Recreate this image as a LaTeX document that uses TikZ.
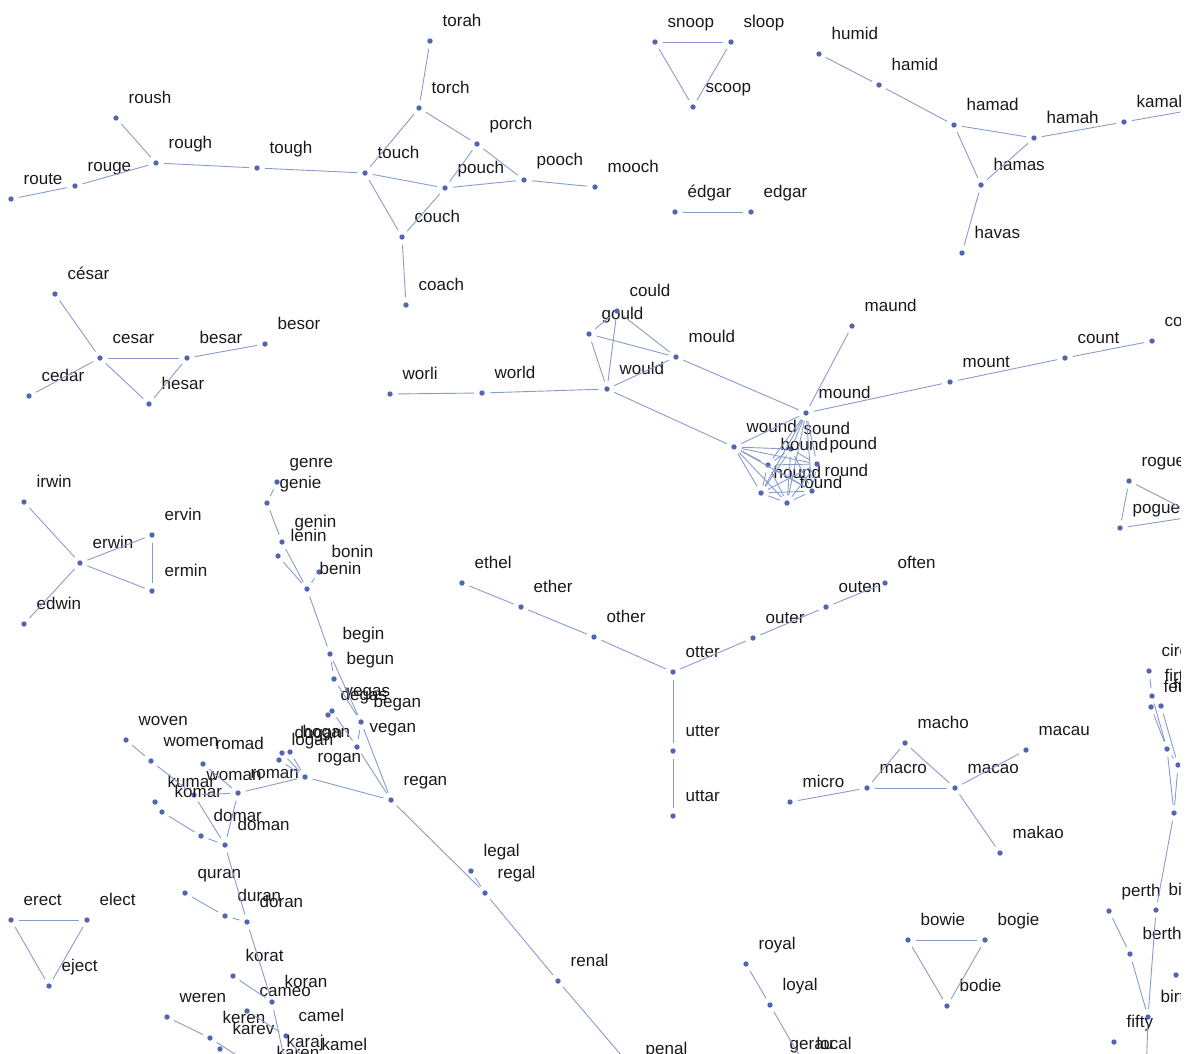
\documentclass[tikz,border=0pt]{standalone}
\usepackage{fontspec}
\setmainfont{Liberation Sans}
\definecolor{vcol}{RGB}{82,102,176}
\definecolor{ecol}{RGB}{135,155,205}
\tikzset{
 vdot/.style={circle, fill=vcol, inner sep=0pt, minimum size=5.4pt},
 vlbl/.style={anchor=base west, inner sep=0pt, font=\fontsize{17}{20}\selectfont, text=black!90},
 lnk/.style={draw=ecol, line width=0.9pt, shorten <=5pt, shorten >=5pt},
}
\newcommand\V[4]{\node[vdot] (#1) at (#2,#3) {}; \node[vlbl] (#1-l) at (#2+12.5,#3-14.7) {#4};}
\newcommand\U[3]{\node[vdot] (#1) at (#2,#3) {};}
\begin{document}
\begin{tikzpicture}[x=1pt,y=-1pt]
\useasboundingbox (0,0) rectangle (1191,1053);
\clip (0,0) rectangle (1180,1053);
% top left
\V{route}{11}{199}{route}
\V{rouge}{75}{186}{rouge}
\V{roush}{116}{118}{roush}
\V{rough}{156}{163}{rough}
\V{tough}{257}{168}{tough}
\V{touch}{365}{173}{touch}
\V{torch}{419}{108}{torch}
\V{torah}{430}{41}{torah}
\V{porch}{477}{144}{porch}
\V{pouch}{445}{188}{pouch}
\V{pooch}{524}{180}{pooch}
\V{mooch}{595}{187}{mooch}
\V{couch}{402}{237}{couch}
\V{coach}{406}{305}{coach}
\V{snoop}{655}{42}{snoop}
\V{sloop}{731}{42}{sloop}
\V{scoop}{693}{107}{scoop}
\V{edgarA}{675}{212}{édgar}
\V{edgar}{751}{212}{edgar}
\V{humid}{819}{54}{humid}
\V{hamid}{879}{85}{hamid}
\V{hamad}{954}{125}{hamad}
\V{hamah}{1034}{138}{hamah}
\V{kamah}{1124}{122}{kamah}
\coordinate (kamXX) at (1260,98);
\V{hamas}{981}{185}{hamas}
\V{havas}{962}{253}{havas}
\V{cesarA}{55}{294}{césar}
\V{cesar}{100}{358}{cesar}
\V{besar}{187}{358}{besar}
\V{besor}{265}{344}{besor}
\V{cedar}{29}{396}{cedar}
\V{hesar}{149}{404}{hesar}
\V{irwin}{24}{502}{irwin}
\V{erwin}{80}{563}{erwin}
\V{ervin}{152}{535}{ervin}
\V{ermin}{152}{591}{ermin}
\V{edwin}{24}{624}{edwin}
% ould / ound
\V{worli}{390}{394}{worli}
\V{world}{482}{393}{world}
\V{would}{607}{389}{would}
\V{gould}{589}{334}{gould}
\V{could}{617}{311}{could}
\V{mould}{676}{357}{mould}
\V{mound}{806}{413}{mound}
\V{maund}{852}{326}{maund}
\V{mount}{950}{382}{mount}
\V{count}{1065}{358}{count}
\V{court}{1152}{341}{court}
\V{wound}{734}{447}{wound}
\V{sound}{791}{449}{sound}
\V{bound}{768}{465}{bound}
\V{pound}{817}{464}{pound}
\V{hound}{761}{493}{hound}
\V{round}{812}{491}{round}
\V{found}{787}{503}{found}
% genre column
\V{genre}{277}{482}{genre}
\V{genie}{267}{503}{genie}
\V{genin}{282}{542}{genin}
\V{lenin}{278}{556}{lenin}
\V{bonin}{319}{572}{bonin}
\V{benin}{307}{589}{benin}
\V{begin}{330}{654}{begin}
\V{begun}{334}{679}{begun}
\V{vegas}{332}{711}{vegas}
\V{degas}{328}{715}{degas}
\V{began}{361}{722}{began}
\V{vegan}{357}{747}{vegan}
\V{dogan}{282}{753}{dogan}
\V{hogan}{290}{752}{hogan}
\V{logan}{279}{760}{logan}
\V{rogan}{305}{777}{rogan}
\V{regan}{391}{800}{regan}
\V{legal}{471}{871}{legal}
\V{regal}{485}{893}{regal}
\V{renal}{558}{981}{renal}
\V{penal}{633}{1069}{penal}
% woman area
\V{woven}{126}{740}{woven}
\V{women}{151}{761}{women}
\V{romad}{203}{764}{romad}
\V{woman}{194}{795}{woman}
\V{roman}{238}{793}{roman}
\V{kumar}{155}{802}{kumar}
\V{komar}{162}{812}{komar}
\V{domar}{201}{836}{domar}
\V{doman}{225}{845}{doman}
\V{quran}{185}{893}{quran}
\V{duran}{225}{916}{duran}
\V{doran}{247}{922}{doran}
\V{korat}{233}{976}{korat}
\V{koran}{272}{1002}{koran}
\V{cameo}{247}{1011}{cameo}
\V{camel}{286}{1036}{camel}
\V{weren}{167}{1017}{weren}
\V{keren}{210}{1038}{keren}
\V{karev}{220}{1049}{karev}
\V{karaj}{274}{1062}{karaj}
\V{kamel}{309}{1065}{kamel}
\V{karen}{264}{1073}{karen}
\coordinate (karan) at (289,1080);
% ether chain
\V{ethel}{462}{583}{ethel}
\V{ether}{521}{607}{ether}
\V{other}{594}{637}{other}
\V{otter}{673}{672}{otter}
\V{outer}{753}{638}{outer}
\V{outen}{826}{607}{outen}
\V{often}{885}{583}{often}
\V{utter}{673}{751}{utter}
\V{uttar}{673}{816}{uttar}
% macho
\V{macho}{905}{743}{macho}
\V{macau}{1026}{750}{macau}
\V{macro}{867}{788}{macro}
\V{macao}{955}{788}{macao}
\V{micro}{790}{802}{micro}
\V{makao}{1000}{853}{makao}
\V{bowie}{908}{940}{bowie}
\V{bogie}{985}{940}{bogie}
\V{bodie}{947}{1006}{bodie}
\V{royal}{746}{964}{royal}
\V{loyal}{770}{1005}{loyal}
\V{gerau}{777}{1064}{gerau}
\V{local}{804}{1064}{local}
\V{erect}{11}{920}{erect}
\V{elect}{87}{920}{elect}
\V{eject}{49}{986}{eject}
% right edge
\V{rogue}{1129}{481}{rogue}
\V{pogue}{1120}{528}{pogue}
\coordinate (vogue) at (1198,516);
\V{circa}{1149}{671}{circa}
\V{firth}{1152}{696}{firth}
\V{fetch}{1151}{707}{fetch}
\V{forth}{1161}{706}{forth}
\U{rcE}{1167}{749}
\U{rcF}{1178}{765}
\U{rcG}{1174}{813}
\V{birch}{1156}{910}{birch}
\V{perth}{1109}{911}{perth}
\V{berth}{1130}{954}{berth}
\U{rcI}{1176}{975}
\V{birth}{1148}{1017}{birth}
\V{fifty}{1114}{1042}{fifty}
\coordinate (bbot) at (1146,1080);
% edges
\foreach \a/\b in {route/rouge, rouge/rough, roush/rough, rough/tough, tough/touch,
 touch/torch, torch/torah, torch/porch, touch/pouch, touch/couch, porch/pouch,
 porch/pooch, pouch/pooch, pooch/mooch, pouch/couch, couch/coach,
 snoop/sloop, snoop/scoop, sloop/scoop, edgarA/edgar,
 humid/hamid, hamid/hamad, hamad/hamah, hamad/hamas, hamah/hamas, hamah/kamah,
 kamah/kamXX, hamas/havas,
 cesarA/cesar, cesar/besar, cesar/cedar, cesar/hesar, besar/hesar, besar/besor,
 irwin/erwin, erwin/ervin, erwin/ermin, ervin/ermin, erwin/edwin,
 worli/world, world/would, would/gould, would/could, would/mould, gould/could,
 gould/mould, could/mould, mould/mound, would/wound, mound/maund, mound/mount,
 mount/count, count/court,
 wound/sound, wound/bound, wound/pound, wound/hound, wound/round, wound/found, wound/mound,
 sound/bound, sound/pound, sound/hound, sound/round, sound/found, sound/mound,
 bound/pound, bound/hound, bound/round, bound/found, bound/mound,
 pound/hound, pound/round, pound/found, pound/mound,
 hound/round, hound/found, hound/mound, round/found, round/mound, found/mound,
 genre/genie, genie/genin, genin/benin, lenin/benin, bonin/benin, benin/begin,
 begin/begun, begin/began, begun/began, began/vegan, vegas/vegan, began/regan,
 vegan/regan, rogan/regan, dogan/rogan, hogan/rogan, logan/rogan, roman/rogan,
 regan/regal, legal/regal, regal/renal, renal/penal,
 woven/women, women/woman, romad/roman, woman/roman, woman/doman, roman/doman,
 komar/domar, domar/doman, doman/doran, quran/duran, duran/doran, doran/koran,
 korat/koran, koran/karan, cameo/camel, camel/kamel, weren/keren, keren/karen,
 ethel/ether, ether/other, other/otter, otter/outer, outer/outen, outen/often,
 otter/utter, utter/uttar,
 macho/macro, macho/macao, macro/macao, macao/macau, macro/micro, macao/makao,
 bowie/bogie, bowie/bodie, bogie/bodie, royal/loyal, loyal/local,
 erect/elect, erect/eject, elect/eject,
 rogue/pogue, rogue/vogue, pogue/vogue,
 circa/firth, firth/rcE, fetch/rcE, forth/rcF, rcE/rcF, rcE/rcG, rcF/rcG,
 rcG/birch, birch/birth, birth/bbot, perth/berth, berth/birth}
 \draw[lnk] (\a) -- (\b);
\end{tikzpicture}
\end{document}
